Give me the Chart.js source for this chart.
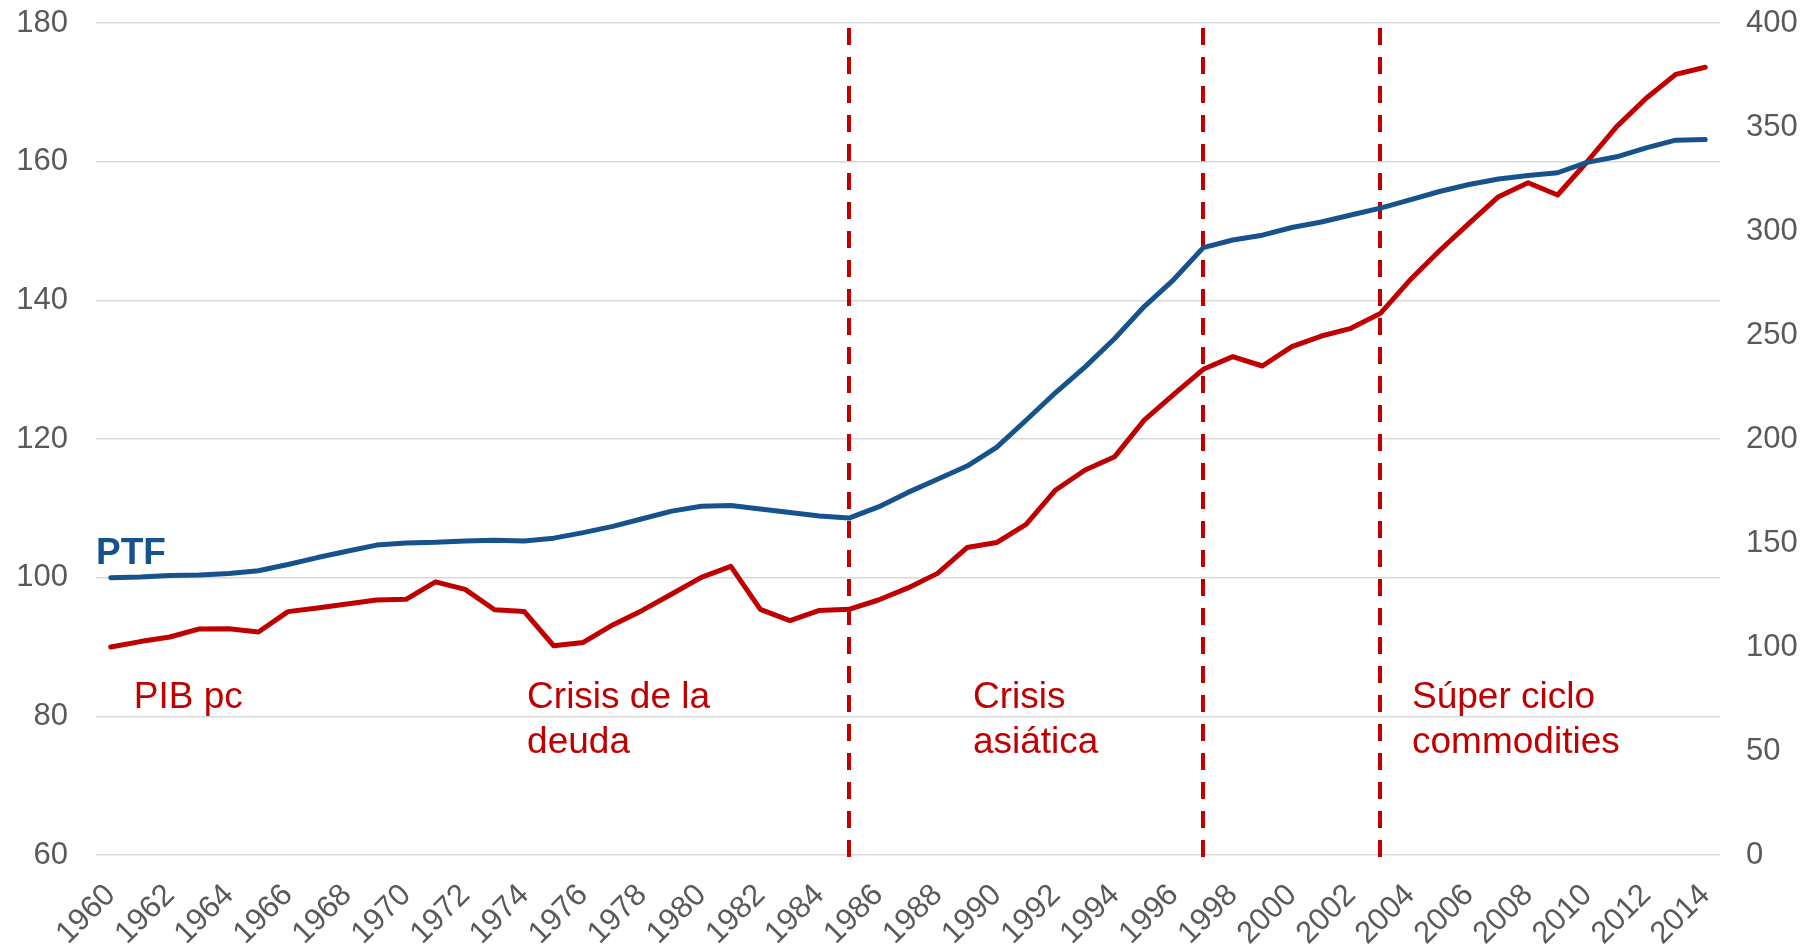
<!DOCTYPE html>
<html>
<head>
<meta charset="utf-8">
<script src="https://cdn.jsdelivr.net/npm/chart.js@4.4.1/dist/chart.umd.min.js"></script>
<style>
  html, body { margin: 0; padding: 0; background: #ffffff; }
  #wrap { width: 1816px; height: 946px; position: relative; }
</style>
</head>
<body>
<div id="wrap"><canvas id="c" width="1816" height="946"></canvas></div>
<script>
// ---- data ----
const years = [];
for (let y = 1960; y <= 2014; y++) years.push(String(y));

const ptf = [100.0, 100.1, 100.3, 100.4, 100.6, 101.0, 101.9, 102.9, 103.8, 104.7,
             105.0, 105.1, 105.3, 105.4, 105.3, 105.7, 106.5, 107.4, 108.5, 109.6,
             110.3, 110.4, 109.9, 109.4, 108.9, 108.6, 110.2, 112.3, 114.2, 116.1,
             118.8, 122.7, 126.7, 130.4, 134.5, 139.1, 143.0, 147.6, 148.7, 149.4,
             150.5, 151.3, 152.3, 153.3, 154.5, 155.7, 156.7, 157.5, 158.0, 158.4,
             159.9, 160.7, 162.0, 163.1, 163.2];

const pibpc = [100.0, 102.6, 104.8, 108.7, 108.8, 107.2, 117.0, 118.8, 120.7, 122.6,
               122.9, 131.3, 127.7, 117.9, 117.1, 100.6, 102.2, 110.6, 117.6, 125.5,
               133.5, 138.8, 118.1, 112.7, 117.6, 118.1, 122.6, 128.4, 135.4, 147.8,
               150.2, 159.0, 175.5, 185.1, 191.5, 209.1, 221.5, 233.5, 239.6, 235.1,
               244.4, 249.5, 253.2, 260.4, 276.4, 290.5, 303.7, 316.5, 323.2, 317.3,
               333.3, 350.2, 363.8, 375.3, 378.7];

const leftTicks = [60, 80, 100, 120, 140, 160, 180];
const rightTicks = [0, 50, 100, 150, 200, 250, 300, 350, 400];

const eventYears = ['1985', '1997', '2003'];

const seriesNames = ['PTF', 'PIB pc'];
const periodLabels = [
  ['PIB pc'],
  ['Crisis de la', 'deuda'],
  ['Crisis', 'asiática'],
  ['Súper ciclo', 'commodities']
];

// ---- styles ----
const BLUE = '#16528B';
const RED = '#C00000';
const GRID = '#D9D9D9';
const TICK = '#595959';
const FONT = '"Liberation Sans", Arial, sans-serif';

// annotation placement (category index, left-axis value)
const periodPos = [[0.78, 81.2], [14.1, 81.2], [29.2, 81.2], [44.07, 81.2]];
const ptfLabelPos = [-0.5, 102.0];

const annotations = {
  id: 'annotations',
  beforeDatasetsDraw(chart) {
    const { ctx, chartArea, scales } = chart;
    ctx.save();
    ctx.strokeStyle = RED;
    ctx.lineWidth = 4;
    ctx.setLineDash([17, 12]);
    eventYears.forEach(yr => {
      const x = Math.round(scales.x.getPixelForValue(years.indexOf(yr)));
      ctx.beginPath();
      ctx.moveTo(x, chartArea.top + 5);
      ctx.lineTo(x, chartArea.bottom + 4);
      ctx.stroke();
    });
    ctx.restore();
  },
  afterDatasetsDraw(chart) {
    const { ctx, scales } = chart;
    ctx.save();
    ctx.textAlign = 'left';
    ctx.textBaseline = 'alphabetic';
    ctx.fillStyle = BLUE;
    ctx.font = 'bold 37px ' + FONT;
    ctx.fillText(seriesNames[0],
      scales.x.getPixelForValue(ptfLabelPos[0]),
      scales.yL.getPixelForValue(ptfLabelPos[1]));
    ctx.fillStyle = RED;
    ctx.font = '37px ' + FONT;
    periodLabels.forEach((lines, i) => {
      const x = scales.x.getPixelForValue(periodPos[i][0]);
      const y0 = scales.yL.getPixelForValue(periodPos[i][1]);
      lines.forEach((t, j) => ctx.fillText(t, x, y0 + j * 45));
    });
    ctx.restore();
  }
};

new Chart(document.getElementById('c'), {
  type: 'line',
  data: {
    labels: years,
    datasets: [
      {
        label: seriesNames[0],
        data: ptf,
        yAxisID: 'yL',
        borderColor: BLUE,
        borderWidth: 5,
        pointRadius: 0,
        borderCapStyle: 'round',
        borderJoinStyle: 'round',
        tension: 0,
        fill: false
      },
      {
        label: seriesNames[1],
        data: pibpc,
        yAxisID: 'yR',
        borderColor: RED,
        borderWidth: 5,
        pointRadius: 0,
        borderCapStyle: 'round',
        borderJoinStyle: 'round',
        tension: 0,
        fill: false
      }
    ]
  },
  options: {
    responsive: false,
    animation: false,
    devicePixelRatio: 1,
    layout: { padding: { top: 0, bottom: 0, left: 0, right: 0 } },
    plugins: {
      legend: { display: false },
      tooltip: { enabled: false },
      title: { display: false }
    },
    scales: {
      x: {
        type: 'category',
        offset: true,
        grid: { display: false, drawTicks: false },
        border: { display: false },
        ticks: {
          autoSkip: false,
          maxRotation: 45,
          minRotation: 45,
          padding: 22,
          color: TICK,
          font: { family: FONT, size: 31 },
          callback: function (val, i) { return i % 2 === 0 ? years[i] : null; }
        },
        afterFit(axis) { axis.height = 91; }
      },
      yL: {
        position: 'left',
        min: 60,
        max: 180,
        afterBuildTicks(axis) { axis.ticks = leftTicks.map(v => ({ value: v })); },
        grid: { color: GRID, lineWidth: 1.5, drawTicks: false },
        border: { display: false },
        ticks: {
          padding: 28,
          color: TICK,
          font: { family: FONT, size: 31 }
        },
        afterFit(axis) { axis.width = 96; axis.paddingTop = 23; }
      },
      yR: {
        position: 'right',
        min: 0,
        max: 400,
        afterBuildTicks(axis) { axis.ticks = rightTicks.map(v => ({ value: v })); },
        grid: { display: false, drawTicks: false },
        border: { display: false },
        ticks: {
          padding: 26,
          color: TICK,
          font: { family: FONT, size: 31 }
        },
        afterFit(axis) { axis.width = 96; axis.paddingTop = 23; }
      }
    }
  },
  plugins: [annotations]
});
</script>
</body>
</html>
